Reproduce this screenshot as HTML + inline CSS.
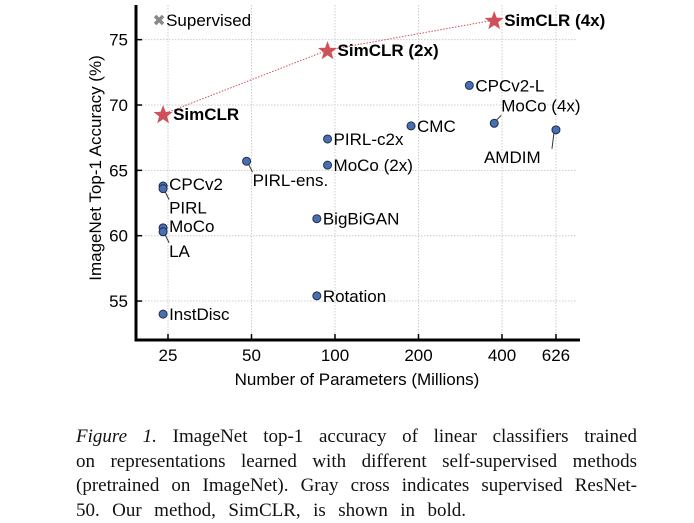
<!DOCTYPE html>
<html><head><meta charset="utf-8"><style>
body{margin:0;background:#fff;width:694px;height:522px;overflow:hidden;position:relative}
svg text{font-family:"Liberation Sans",Arial,sans-serif}
.cap{position:absolute;left:76px;top:425px;width:561px;font-family:"Liberation Serif",serif;font-size:19px;line-height:24.5px;color:#111}
.cap div{text-align:justify;text-align-last:justify;white-space:nowrap;overflow:visible}
.cap div.last{width:390px}
</style></head><body>
<svg id="chart" width="694" height="410" style="position:absolute;left:0;top:0"></svg>
<div class="cap">
<div><i>Figure 1.</i> ImageNet top-1 accuracy of linear classifiers trained</div>
<div>on representations learned with different self-supervised methods</div>
<div>(pretrained on ImageNet). Gray cross indicates supervised ResNet-</div>
<div class="last">50. Our method, SimCLR, is shown in bold.</div>
</div>
<script>
const xTicks=[25,50,100,200,400,626];
const yTicks=[55,60,65,70,75];
const names=["CPCv2-L","MoCo (4x)","AMDIM","CMC","PIRL-c2x","MoCo (2x)","PIRL-ens.","CPCv2","PIRL","MoCo","LA","BigBiGAN","Rotation","InstDisc"];
const params=[305,375,626,188,94,94,48,24,24,24,24,86,86,24];
const acc=[71.5,68.6,68.1,68.4,67.4,65.4,65.7,63.8,63.6,60.6,60.3,61.3,55.4,54.0];
const simNames=["SimCLR","SimCLR (2x)","SimCLR (4x)"];
const simParams=[24,94,375];
const simAcc=[69.3,74.2,76.5];
const supParams=[24];
const supAcc=[76.5];
const lab=[[6,6,0],[7,-12,1],[-72,33,1],[6,6,0],[6,6,0],[6,6,0],[6,25,1],[6,4,0],[6,25,1],[6,4,0],[6,25,1],[6,6,0],[6,6,0],[6,6,0]];
const NS="http://www.w3.org/2000/svg";
const svg=document.getElementById('chart');
const X=p=>168+83.5*Math.log2(p/25);
const Y=v=>105-(v-70)*13.07;
function mk(t,a,parent){const e=document.createElementNS(NS,t);for(const k in a)e.setAttribute(k,a[k]);(parent||svg).appendChild(e);return e;}
xTicks.forEach(t=>{
 const g=mk('line',{x1:X(t),x2:X(t),y1:5,y2:340,stroke:'#ccc','stroke-dasharray':'1.5 1.5','stroke-width':1});
 
 const tk=mk('line',{x1:X(t),x2:X(t),y1:334,y2:340,stroke:'#000','stroke-width':1.5});
 
 const l=mk('text',{x:X(t),y:361,'text-anchor':'middle','font-size':17});l.textContent=t;
 
});
yTicks.forEach(t=>{
 const g=mk('line',{x1:136,x2:577,y1:Y(t),y2:Y(t),stroke:'#ccc','stroke-dasharray':'1.5 1.5','stroke-width':1});
 
 const tk=mk('line',{x1:136,x2:142,y1:Y(t),y2:Y(t),stroke:'#000','stroke-width':1.5});
 
 const l=mk('text',{x:128,y:Y(t)+6,'text-anchor':'end','font-size':17});l.textContent=t;
 
});
const ax=mk('path',{d:'M136 5 V340 H580',fill:'none',stroke:'#000','stroke-width':3});

const xt=mk('text',{x:357,y:385,'text-anchor':'middle','font-size':17});xt.textContent='Number of Parameters (Millions)';

const yt=mk('text',{x:0,y:0,'text-anchor':'middle','font-size':17,transform:'translate(101,168) rotate(-90)'});yt.textContent='ImageNet Top-1 Accuracy (%)';

const pts=simParams.map((p,i)=>X(p)+','+Y(simAcc[i])).join(' ');
const pl=mk('polyline',{points:pts,fill:'none',stroke:'#d0505a','stroke-width':1,'stroke-dasharray':'1.5 1.5'});

names.forEach((n,i)=>{
 const x=X(params[i]),y=Y(acc[i]),o=lab[i];
 if(o[2]){const ld=mk('line',{x1:x+(o[0]<0?-2:2),y1:y+(o[1]>0?3:-3),x2:x+(o[0]<0?-4:o[0]),y2:y+(o[1]>0?o[1]-14:o[1]+4),stroke:'#333','stroke-width':1});
  }
 const c=mk('circle',{cx:x,cy:y,r:4,fill:'#4a6fb0',stroke:'#1d2d4f','stroke-width':1});
 
 const t=mk('text',{x:x+o[0],y:y+o[1],'font-size':17});t.textContent=n;
 
});
function star(cx,cy,R){let d='';for(let k=0;k<10;k++){const r=k%2?R*0.42:R;const a=-Math.PI/2+k*Math.PI/5;d+=(k?'L':'M')+(cx+r*Math.cos(a)).toFixed(1)+' '+(cy+r*Math.sin(a)).toFixed(1);}return d+'Z';}
simNames.forEach((n,i)=>{
 const x=X(simParams[i]),y=Y(simAcc[i]);
 const s=mk('path',{d:star(x,y+1,10),fill:'#d0505a'});
 
 const t=mk('text',{x:x+10,y:y+6,'font-size':17,'font-weight':'bold'});t.textContent=n;
 
});
supParams.forEach((p,i)=>{
 const x=X(p)-4,y=Y(supAcc[i]);
 const c=mk('path',{d:`M${x-4} ${y-4}L${x+4} ${y+4}M${x+4} ${y-4}L${x-4} ${y+4}`,stroke:'#888','stroke-width':3.5});
 
 const t=mk('text',{x:x+7,y:y+6,'font-size':17});t.textContent='Supervised';
 
});
</script>
</body></html>
